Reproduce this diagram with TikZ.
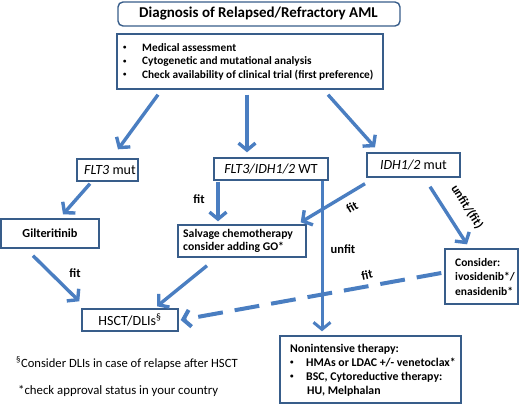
\documentclass[tikz,border=0pt]{standalone}
\usepackage{fontspec}
\setmainfont{Carlito}
\usetikzlibrary{arrows.meta}
\definecolor{boxc}{RGB}{56,93,138}
\definecolor{arrc}{RGB}{74,126,193}
\newcommand{\smbul}{\raisebox{0.25ex}{\scalebox{0.6}{\textbullet}}}
\tikzset{
  box/.style={draw=boxc, line width=1.4pt, inner sep=0pt, fill=white},
  arr/.style={draw=arrc, line width=3.4pt, -{Straight Barb[length=7pt,width=17pt]}},
  lab/.style={font=\bfseries\fontsize{12.5}{14}\selectfont, inner sep=0pt},
  txt/.style={anchor=west, inner sep=0pt, align=left},
}
\begin{document}
\begin{tikzpicture}[x=1pt,y=-1pt]
\useasboundingbox (0,0) rectangle (520,406);
\node[box, rounded corners=5pt, minimum width=282pt, minimum height=24pt] (title) at (259,14) {};
\node[txt, font=\bfseries\fontsize{15}{17}\selectfont] (titletxt) at (139,14) {Diagnosis of Relapsed/Refractory AML};
\node[box, minimum width=266pt, minimum height=55pt] (diag) at (250,61.5) {};
\node[txt, font=\bfseries\fontsize{11.3}{13.5}\selectfont] (diagtxt) at (123,61.5) {%
\makebox[19pt][l]{\smbul}Medical assessment\\
\makebox[19pt][l]{\smbul}Cytogenetic and mutational analysis\\
\makebox[19pt][l]{\smbul}Check availability of clinical trial (first preference)};
\node[box, minimum width=61pt, minimum height=22pt] (flt) at (107.5,170) {};
\node[txt, font=\fontsize{14}{16}\selectfont] (flttxt) at (84,170) {\textit{FLT3} mut};
\node[box, minimum width=114pt, minimum height=22pt, font=\fontsize{14}{16}\selectfont] (wt) at (271,169) {\textit{FLT3/IDH1/2} WT};
\node[box, minimum width=93pt, minimum height=24pt, font=\fontsize{14}{16}\selectfont] (idh) at (413.5,165) {\textit{IDH1/2} mut};
\node[box, minimum width=98pt, minimum height=29pt, font=\bfseries\fontsize{12.3}{14}\selectfont] (gil) at (50,233.5) {Gilteritinib};
\node[box, minimum width=128pt, minimum height=32pt] (salv) at (242,241) {};
\node[txt, font=\bfseries\fontsize{11.7}{13.5}\selectfont] (salvtxt) at (183,241) {Salvage chemotherapy\\consider adding GO*};
\node[box, minimum width=73pt, minimum height=55pt] (cons) at (481.5,276.5) {};
\node[txt, font=\bfseries\fontsize{11.5}{14.5}\selectfont] (constxt) at (455,277) {Consider:\\ivosidenib*/\\enasidenib*};
\node[box, minimum width=96pt, minimum height=22pt, font=\fontsize{14}{16}\selectfont] (hsct) at (130,320) {HSCT/DLIs\textsuperscript{§}};
\node[box, minimum width=181pt, minimum height=67pt] (nonint) at (370.5,369.5) {};
\node[txt, font=\bfseries\fontsize{11.8}{14}\selectfont] (noninttxt) at (290,370) {Nonintensive therapy:\\
\makebox[16pt][l]{\smbul}HMAs or LDAC +/- venetoclax*\\
\makebox[16pt][l]{\smbul}BSC, Cytoreductive therapy:\\
\hspace*{17pt}HU, Melphalan};
\node[txt, font=\fontsize{12.6}{14}\selectfont] (fn1) at (16,363) {\textsuperscript{§}Consider DLIs in case of relapse after HSCT};
\node[txt, font=\fontsize{12.8}{14}\selectfont] (fn2) at (18,391) {*check approval status in your country};
% arrows
\draw[arr] ([xshift=-92pt,yshift=-5pt]diag.south) -- ([xshift=10.5pt,yshift=9pt]flt.north);
\draw[arr] ([xshift=-3pt,yshift=-5pt]diag.south) -- ([xshift=-24pt,yshift=5pt]wt.north);
\draw[arr] ([xshift=78pt,yshift=-5pt]diag.south) -- ([xshift=-38.5pt,yshift=5pt]idh.north);
\draw[arr] ([xshift=-17.5pt,yshift=-2pt]flt.south) -- ([xshift=13pt,yshift=4pt]gil.north);
\draw[arr] ([xshift=-53pt,yshift=-1pt]wt.south) -- ([xshift=-24pt,yshift=3pt]salv.north);
\draw[arr, line width=3pt] ([xshift=51pt]wt.south) -- ([xshift=-48.5pt,yshift=4pt]nonint.north);
\draw[arr] ([xshift=-48.5pt,yshift=-6pt]idh.south) -- ([xshift=-6pt,yshift=2pt]salv.north east);
\draw[arr] ([xshift=16.5pt,yshift=-9pt]idh.south) -- ([xshift=-14.5pt,yshift=4pt]cons.north);
\draw[arr] ([xshift=-17pt,yshift=-7pt]gil.south) -- ([xshift=-2pt,yshift=7pt]hsct.north west);
\draw[arr] ([xshift=-35pt,yshift=-8pt]salv.south) -- ([xshift=27pt,yshift=2pt]hsct.north);
\draw[arr, line width=4pt, dash pattern=on 25pt off 12pt] ([xshift=-3pt,yshift=3.5pt]cons.west) -- ([xshift=2pt]hsct.east);
% labels
\node[lab] (l1) at (199,199) {fit};
\node[lab] (l2) at (343,249) {unfit};
\node[lab, rotate=30] (l3) at (352,207) {fit};
\node[lab, rotate=-58] (l4) at (467,207) {unfit/(fit)};
\node[lab] (l5) at (75,273) {fit};
\node[lab, rotate=12] (l6) at (367,275) {fit};
\end{tikzpicture}
\end{document}
